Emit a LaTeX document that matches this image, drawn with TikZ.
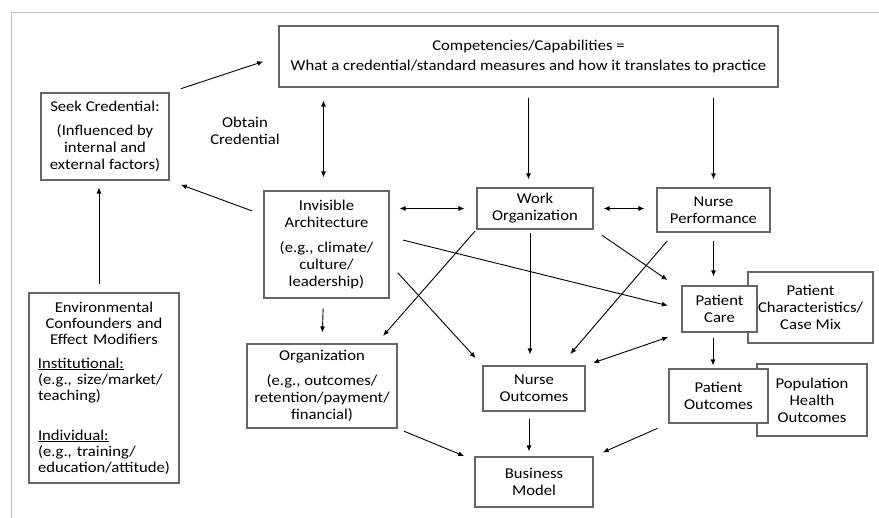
\documentclass[tikz,border=0pt]{standalone}
\usepackage{fontspec}
\setmainfont{Carlito}[FakeStretch=1.11]
\usetikzlibrary{arrows.meta}

\begin{document}
\begin{tikzpicture}[x=1pt,y=-1pt,>={Latex[length=6pt,width=5pt]},
    box/.style={draw=black!60,line width=1.1pt,fill=white,inner sep=0pt,align=center,
      font=\fontsize{15}{17}\selectfont},
    label/.style={inner sep=0pt,align=center,font=\fontsize{15}{17}\selectfont}]
  \useasboundingbox (0,0) rectangle (879,518);
  \draw[black!25,line width=0.8pt] (879,12) -- (11,12) -- (11,518);
  \path
    (528.5,56.5) node[box,minimum width=499pt,minimum height=61pt] (comp)
      {Competencies/Capabilities =\\[3pt]What a credential/standard measures and how it translates to practice}
    (105,136.5) node[box,minimum width=128pt,minimum height=87pt] (seek)
      {Seek Credential:\\[7pt](Influenced by\\internal and\\external factors)}
    (245,131) node[label] (obtain) {Obtain\\Credential}
    (326.5,244.5) node[box,minimum width=125pt,minimum height=107pt] (invis)
      {Invisible\\Architecture\\[8pt](e.g., climate/\\culture/\\leadership)}
    (104,388) node[box,minimum width=150pt,minimum height=190pt,text width=132pt,align=left,
      font=\fontsize{15}{16}\selectfont] (env)
      {{\centering Environmental\\Confounders and\\Effect Modifiers\par}
       \vspace{8pt}
       \underline{Institutional:}\\(e.g., size/market/\\teaching)\par
       \vspace{24pt}
       \underline{Individual:}\\(e.g., training/\\education/attitude)}
    (535,208.5) node[box,minimum width=116pt,minimum height=41pt] (work) {Work\\Organization}
    (713.5,210) node[box,minimum width=113pt,minimum height=44pt] (perf) {Nurse\\Performance}
    (322,386) node[box,minimum width=150pt,minimum height=84pt] (org)
      {Organization\\[8pt](e.g., outcomes/\\retention/payment/\\financial)}
    (534,388.5) node[box,minimum width=102pt,minimum height=45pt] (nout) {Nurse\\Outcomes}
    (534,482) node[box,minimum width=118pt,minimum height=50pt] (biz) {Business\\Model}
    (810.5,307.5) node[box,minimum width=125pt,minimum height=71pt] (chars)
      {Patient\\Characteristics/\\Case Mix}
    (719.5,309) node[box,minimum width=75pt,minimum height=46pt] (care) {Patient\\Care}
    (812,400) node[box,minimum width=110pt,minimum height=72pt] (pop) {Population\\Health\\Outcomes}
    (718.5,396) node[box,minimum width=99pt,minimum height=54pt] (pout) {Patient\\Outcomes};
  \begin{scope}[->,line width=0.9pt]
    \draw[shorten <=12pt,shorten >=16pt] (seek.north east) -- (comp.west);
    \draw[<->,shorten <=13pt,shorten >=13pt] ([xshift=-3pt]invis.north |- comp.south) -- ([xshift=-3pt]invis.north);
    \draw[shorten <=12pt,shorten >=12pt] (invis.155) -- (seek.south east);
    \draw[shorten <=8pt,shorten >=7pt] ([xshift=-5pt]env.north) -- ([xshift=-6pt]seek.south);
    \draw[shorten <=10pt,shorten >=8pt] (comp.south) -- (comp.south |- work.north);
    \draw[shorten <=10pt,shorten >=8pt] (perf.north |- comp.south) -- (perf.north);
    \draw[<->,shorten <=10pt,shorten >=12pt] (work.west -| invis.east) -- (work.west);
    \draw[<->,shorten <=10pt,shorten >=12pt] (work.east) -- (work.east -| perf.west);
    \draw[shorten <=8pt,shorten >=9pt] (perf.south) -- (perf.south |- care.north);
    \draw[shorten <=5pt,shorten >=3pt] ([xshift=-6.5pt]care.south) -- ([xshift=-5.5pt]pout.north);
    \draw[shorten <=10pt,shorten >=11pt] ([xshift=-3pt]invis.south) -- (org.north);
    \draw[shorten <=2pt,shorten >=10pt] (work.south west) -- (org.38);
    \draw[shorten <=3pt,shorten >=11pt] ([xshift=-5pt]work.south) -- ([xshift=-4pt]nout.north);
    \draw[shorten <=11pt,shorten >=15pt] (perf.210) -- (nout.41);
    \draw[shorten <=10pt,shorten >=17pt] (work.south east) -- (care.153);
    \draw[shorten <=14pt,shorten >=14pt] (invis.7) -- (care.west);
    \draw[shorten <=12pt,shorten >=10pt] (invis.343) -- (nout.north west);
    \draw[<->,shorten <=14pt,shorten >=8pt] (care.south west) -- (nout.north east);
    \draw[shorten <=7pt,shorten >=11pt] (org.south east) -- (biz.160);
    \draw[shorten <=7pt,shorten >=5pt] ([xshift=-5pt]nout.south) -- ([xshift=-5pt]biz.north);
    \draw[shorten <=12pt,shorten >=10pt] (pout.south west) -- (biz.north east);
  \end{scope}
\end{tikzpicture}
\end{document}
